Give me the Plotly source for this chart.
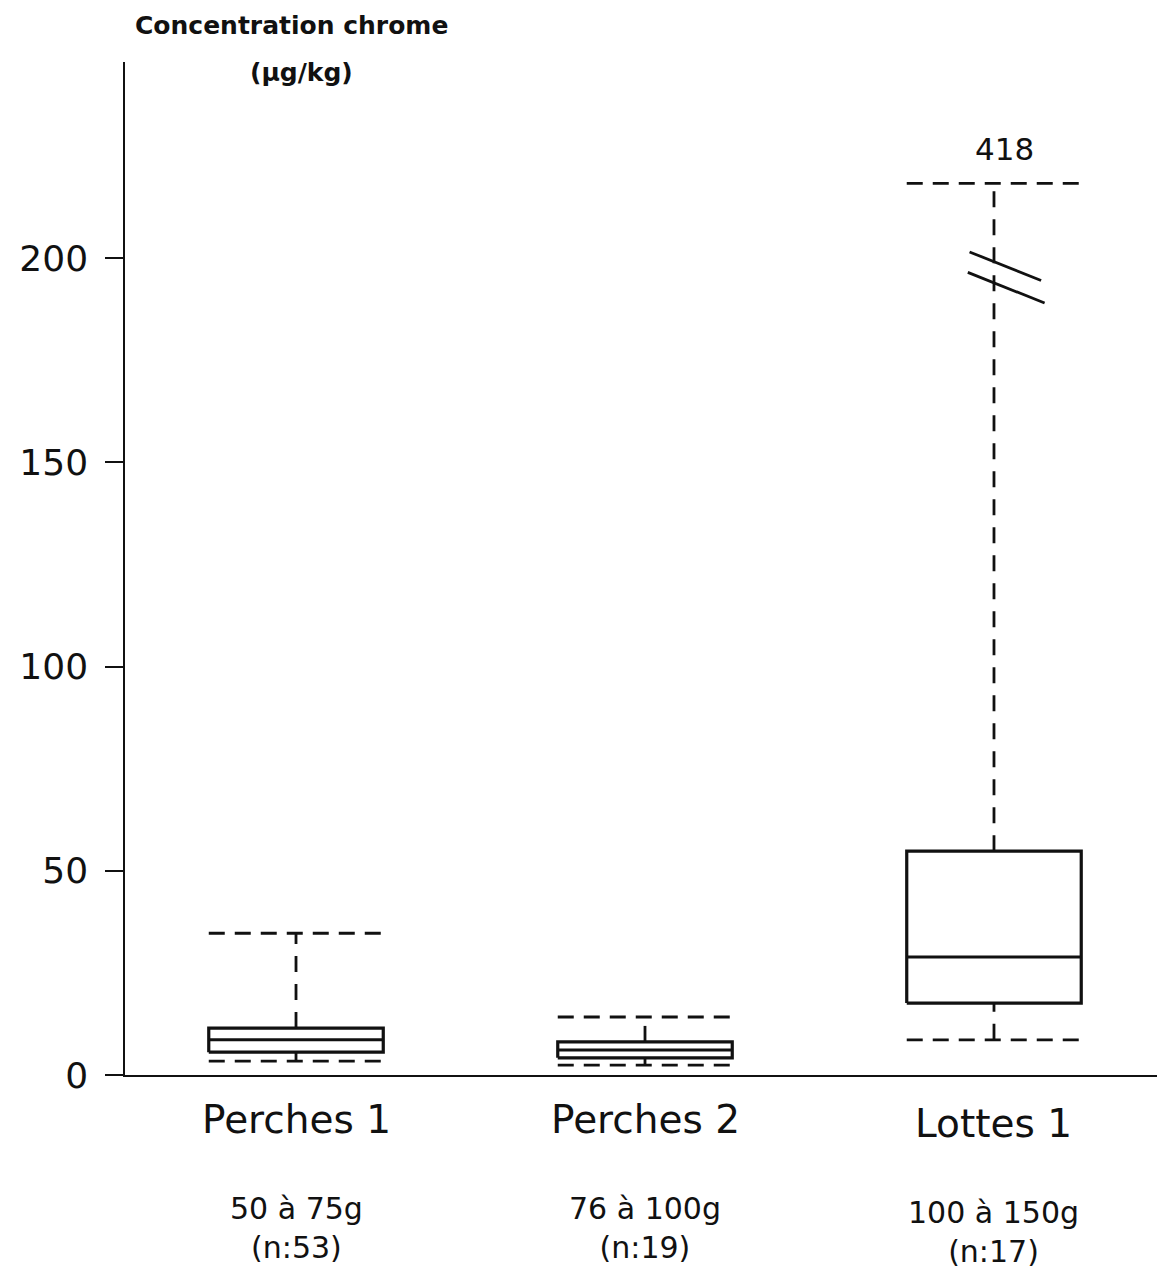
import plotly.graph_objects as go

# ---- data ----
categories = ["Perches 1", "Perches 2", "Lottes 1"]
weight_labels = ["50 à 75g", "76 à 100g", "100 à 150g"]
n_labels = ["(n:53)", "(n:19)", "(n:17)"]
minimum = [3.4, 2.4, 8.6]
q1 = [5.6, 4.2, 17.6]
median = [8.6, 6.1, 28.9]
q3 = [11.5, 8.1, 54.8]
maximum_drawn = [34.7, 14.2, 218.3]   # value where the upper whisker cap is drawn
maximum_label = [None, None, "418"]   # true value written above a broken whisker
y_ticks = [0, 50, 100, 150, 200]

FONT = "DejaVu Sans"
INK = "#111111"
HW = 0.25  # half box width in category units
DASH_H = "16px,10px"
DASH_V = "16px,12px"

fig = go.Figure()

def add_line(xs, ys, width=3, dash="solid"):
    fig.add_trace(go.Scatter(x=xs, y=ys, mode="lines",
                             line=dict(color=INK, width=width, dash=dash),
                             hoverinfo="skip", showlegend=False))

for i, cat in enumerate(categories):
    c = i
    # whiskers (dashed)
    add_line([c, c], [q3[i], maximum_drawn[i]], width=2.8, dash=DASH_V)
    add_line([c, c], [minimum[i], q1[i]], width=2.8, dash=DASH_V)
    # caps (dashed)
    add_line([c - HW, c + HW], [maximum_drawn[i]] * 2, width=2.8, dash=DASH_H)
    add_line([c - HW, c + HW], [minimum[i]] * 2, width=2.8, dash=DASH_H)
    # box
    add_line([c - HW, c + HW, c + HW, c - HW, c - HW],
             [q1[i], q1[i], q3[i], q3[i], q1[i]], width=3.2)
    # median
    add_line([c - HW, c + HW], [median[i]] * 2, width=3)

    extra = 4 if i == 2 else 0
    # category labels below axis
    fig.add_annotation(x=c, y=0, xref="x", yref="paper", text=cat,
                       showarrow=False, xanchor="center", yanchor="middle",
                       yshift=-44 - extra,
                       font=dict(family=FONT, size=39, color=INK))
    fig.add_annotation(x=c, y=0, xref="x", yref="paper",
                       text=weight_labels[i] + "<br>" + n_labels[i],
                       showarrow=False, xanchor="center", yanchor="middle",
                       align="center", yshift=-153 - extra,
                       font=dict(family=FONT, size=30, color=INK))
    if maximum_label[i]:
        fig.add_annotation(x=c + 0.03, y=maximum_drawn[i], xref="x", yref="y",
                           text=maximum_label[i], showarrow=False,
                           xanchor="center", yanchor="middle", yshift=34,
                           font=dict(family=FONT, size=31, color=INK))
        # axis-break marks on the whisker
        add_line([c - 0.07, c + 0.135], [201.5, 194.5], width=2.8)
        add_line([c - 0.075, c + 0.145], [196.5, 189.0], width=2.8)

# y-axis title
fig.add_annotation(x=0.16, y=1, xref="paper", yref="paper",
                   text="<b>Concentration chrome</b>", showarrow=False,
                   xanchor="center", yanchor="middle", yshift=37,
                   font=dict(family=FONT, size=25, color=INK))
fig.add_annotation(x=0.17, y=1, xref="paper", yref="paper",
                   text="<b>(µg/kg)</b>", showarrow=False,
                   xanchor="center", yanchor="middle", yshift=-10,
                   font=dict(family=FONT, size=25, color=INK))

# page body adds an 8px offset, so the figure is shrunk accordingly
fig.update_layout(
    width=1157, height=1263,
    margin=dict(l=117, r=0, t=54, b=196),
    paper_bgcolor="white", plot_bgcolor="white",
    showlegend=False,
    xaxis=dict(range=[-0.49, 2.49], showgrid=False, zeroline=False,
               showticklabels=False, ticks="", showline=True,
               linecolor=INK, linewidth=2),
    yaxis=dict(range=[0, 248], tickvals=y_ticks, showgrid=False,
               zeroline=False, showline=True, linecolor=INK, linewidth=1.5,
               ticks="outside", ticklen=18, tickwidth=1.5, tickcolor=INK,
               ticklabelstandoff=10,
               tickfont=dict(family=FONT, size=36, color=INK)),
)

fig.write_html("out.html")
